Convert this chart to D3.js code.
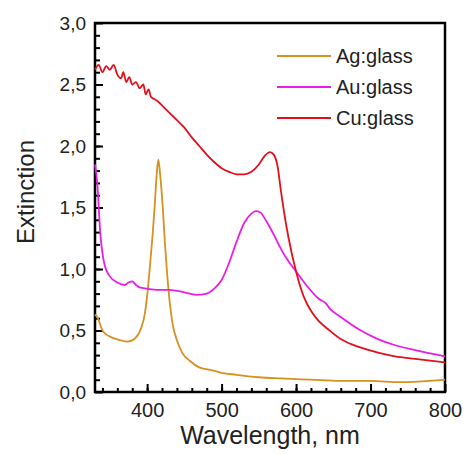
<!DOCTYPE html>
<html>
<head>
<meta charset="utf-8">
<script src="https://cdn.jsdelivr.net/npm/d3@7"></script>
<style>
  body { margin: 0; background: #fff; }
  text { font-family: "Liberation Sans", Arial, sans-serif; fill: #222; }
</style>
</head>
<body>
<script>
// wavelength (nm) / extinction
var agWl = [330, 333, 341, 354, 365, 373, 380, 386, 392, 397, 400, 403, 407, 410, 413, 415, 417, 421, 424, 427, 430, 434, 440, 447, 458, 470, 485, 497, 520, 550, 580, 620, 660, 700, 740, 780, 800];
var agExt = [0.63, 0.61, 0.49, 0.44, 0.42, 0.41, 0.42, 0.45, 0.52, 0.64, 0.78, 0.97, 1.25, 1.5, 1.78, 1.89, 1.8, 1.5, 1.2, 0.95, 0.75, 0.56, 0.42, 0.32, 0.25, 0.2, 0.18, 0.16, 0.14, 0.12, 0.11, 0.1, 0.09, 0.09, 0.08, 0.09, 0.1];

var auWl = [330, 333, 337, 343, 350, 360, 370, 375, 380, 385, 390, 400, 413, 430, 450, 466, 480, 490, 500, 510, 520, 530, 540, 546, 552, 560, 570, 580, 590, 600, 615, 630, 640, 645, 660, 687, 710, 733, 760, 800];
var auExt = [1.85, 1.7, 1.3, 1.03, 0.94, 0.89, 0.87, 0.89, 0.9, 0.87, 0.85, 0.84, 0.83, 0.83, 0.81, 0.79, 0.8, 0.84, 0.91, 1.05, 1.22, 1.37, 1.45, 1.47, 1.46, 1.39, 1.28, 1.16, 1.06, 0.98, 0.86, 0.76, 0.72, 0.68, 0.61, 0.5, 0.43, 0.38, 0.34, 0.29];

var cuWl = [330, 335, 340, 345, 350, 355, 360, 365, 368, 372, 376, 380, 385, 390, 395, 398, 402, 405, 410, 415, 420, 430, 440, 450, 460, 470, 480, 490, 500, 510, 520, 530, 540, 550, 558, 565, 570, 575, 580, 585, 590, 600, 610, 620, 630, 643, 660, 687, 710, 733, 760, 800];
var cuExt = [2.62, 2.66, 2.6, 2.65, 2.62, 2.66, 2.58, 2.55, 2.6, 2.52, 2.56, 2.5, 2.52, 2.47, 2.5, 2.42, 2.46, 2.4, 2.38, 2.36, 2.33, 2.27, 2.21, 2.15, 2.07, 2.0, 1.93, 1.87, 1.82, 1.79, 1.77, 1.77, 1.79, 1.85, 1.92, 1.95, 1.93, 1.84, 1.62, 1.42, 1.25, 0.98, 0.78, 0.66, 0.58, 0.51, 0.43, 0.36, 0.32, 0.29, 0.27, 0.24];

var seriesNames = ["Ag:glass", "Au:glass", "Cu:glass"];
var seriesColors = ["#d8901e", "#e81ee8", "#e3101c"];

var xTicks = [400, 500, 600, 700, 800];
var yTicks = [0, 0.5, 1, 1.5, 2, 2.5, 3];

var margin = {top: 23, right: 22, bottom: 62, left: 95},
    width = 467 - margin.left - margin.right,
    height = 454 - margin.top - margin.bottom;

var svg = d3.select("body").append("svg")
    .attr("width", 467)
    .attr("height", 454);

var g = svg.append("g")
    .attr("transform", "translate(" + margin.left + "," + margin.top + ")");

var x = d3.scaleLinear().domain([330, 800]).range([0, width]);
var y = d3.scaleLinear().domain([0, 3]).range([height, 0]);

var comma = function(d) { return d3.format(".1f")(d).replace(".", ","); };

// minor ticks
g.append("g")
    .attr("transform", "translate(0," + height + ")")
    .call(d3.axisBottom(x).tickValues(d3.range(340, 800, 20)).tickSize(-4).tickFormat(""))
    .call(function(a) { a.select(".domain").remove(); });
g.append("g")
    .call(d3.axisLeft(y).tickValues(d3.range(0.1, 3, 0.1)).tickSize(-5).tickFormat(""))
    .call(function(a) { a.select(".domain").remove(); });

// major ticks
var xAxis = g.append("g")
    .attr("transform", "translate(0," + height + ")")
    .call(d3.axisBottom(x).tickValues(xTicks).tickSize(-8).tickPadding(11).tickSizeOuter(0));
xAxis.selectAll("text").attr("font-size", 20);

var yAxis = g.append("g")
    .call(d3.axisLeft(y).tickValues(yTicks).tickSize(-8).tickPadding(9).tickFormat(comma).tickSizeOuter(0));
yAxis.selectAll("text").attr("font-size", 19);

svg.selectAll(".tick line").attr("stroke", "#000").attr("stroke-width", 2);
svg.selectAll(".tick text").style("fill", "#222").attr("font-family", "Liberation Sans, Arial, sans-serif");

// frame
g.append("rect")
    .attr("width", width)
    .attr("height", height)
    .attr("fill", "none")
    .attr("stroke", "#000")
    .attr("stroke-width", 2.5);
g.selectAll(".domain").remove();

// curves
var line = d3.line()
    .x(function(d) { return x(d[0]); })
    .y(function(d) { return y(d[1]); })
    .curve(d3.curveMonotoneX);

var allSeries = [d3.zip(agWl, agExt), d3.zip(auWl, auExt), d3.zip(cuWl, cuExt)];

g.selectAll(".curve")
    .data(allSeries)
  .enter().append("path")
    .attr("class", "curve")
    .attr("d", line)
    .attr("fill", "none")
    .attr("stroke", function(d, i) { return seriesColors[i]; })
    .attr("stroke-width", 1.8);

// legend
var legend = svg.selectAll(".legend")
    .data(seriesNames)
  .enter().append("g")
    .attr("class", "legend")
    .attr("transform", function(d, i) { return "translate(277," + (56 + i * 31) + ")"; });

legend.append("line")
    .attr("x1", 0).attr("x2", 54)
    .attr("stroke", function(d, i) { return seriesColors[i]; })
    .attr("stroke-width", 2);

legend.append("text")
    .attr("x", 59)
    .attr("dy", "0.35em")
    .attr("font-size", 20)
    .text(function(d) { return d; });

// axis titles
svg.append("text")
    .attr("x", margin.left + width / 2)
    .attr("y", 444)
    .attr("text-anchor", "middle")
    .attr("font-size", 25)
    .text("Wavelength, nm");

svg.append("text")
    .attr("transform", "translate(34,192) rotate(-90)")
    .attr("text-anchor", "middle")
    .attr("font-size", 24)
    .text("Extinction");
</script>
</body>
</html>
